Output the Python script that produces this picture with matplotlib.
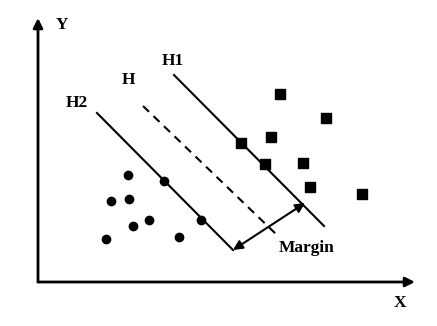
import matplotlib.pyplot as plt

# class A points (circles) and class B points (squares)
circle_x = [9.0, 12.6, 7.3, 9.1, 11.1, 9.5, 6.8, 14.1, 16.3]
circle_y = [10.7, 10.1, 8.1, 8.3, 6.2, 5.6, 4.3, 4.5, 6.2]
square_x = [24.2, 28.8, 23.3, 20.3, 22.7, 26.5, 27.2, 32.4]
square_y = [18.8, 16.4, 14.5, 13.9, 11.8, 11.9, 9.5, 8.8]

# hyperplanes: (x0, y0, x1, y1)
h1 = [13.6, 20.7, 28.6, 5.6]
h = [10.5, 17.6, 23.9, 4.7]
h2 = [5.9, 16.9, 19.5, 3.2]
margin = [19.5, 3.2, 26.7, 7.9]

x_axis_end = 37.7
y_axis_end = 26.4

plt.rcParams['font.family'] = ['Liberation Serif', 'DejaVu Serif']

fig = plt.figure(figsize=(4.37, 3.26), dpi=100)
ax = fig.add_axes([0, 0, 1, 1])
ax.set_xlim(-3.8, 39.9)
ax.set_ylim(-4.4, 28.2)
ax.axis('off')

# axes with arrows
ax.annotate('', xy=(0, y_axis_end), xytext=(0, 0),
            arrowprops=dict(arrowstyle='-|>', color='black', lw=2,
                            mutation_scale=14, shrinkA=0, shrinkB=0))
ax.annotate('', xy=(x_axis_end, 0), xytext=(0, 0),
            arrowprops=dict(arrowstyle='-|>', color='black', lw=2,
                            mutation_scale=14, shrinkA=0, shrinkB=0))

# hyperplanes
ax.plot([h1[0], h1[2]], [h1[1], h1[3]], color='black', lw=1.5)
ax.plot([h2[0], h2[2]], [h2[1], h2[3]], color='black', lw=1.5)
ax.plot([h[0], h[2]], [h[1], h[3]], color='black', lw=1.5, linestyle=(0, (4, 3)))

# margin arrow
ax.annotate('', xy=(margin[2], margin[3]), xytext=(margin[0], margin[1]),
            arrowprops=dict(arrowstyle='<|-|>', color='black', lw=1.5,
                            mutation_scale=14, shrinkA=0, shrinkB=0))

# points
ax.scatter(circle_x, circle_y, s=36, marker='o', color='black', zorder=3)
ax.scatter(square_x, square_y, s=50, marker='s', color='black', zorder=3)

# labels
kw = dict(fontsize=12.5, fontweight='bold', ha='center', va='center')
ax.text(2.4, 25.7, 'Y', **kw)
ax.text(36.2, -2.1, 'X', **kw)
ax.text(13.5, 22.1, 'H1', **kw)
ax.text(9.0, 20.2, 'H', **kw)
ax.text(3.9, 17.9, 'H2', **kw)
ax.text(26.9, 3.4, 'Margin', **kw)

plt.savefig('out.png', dpi=100)
